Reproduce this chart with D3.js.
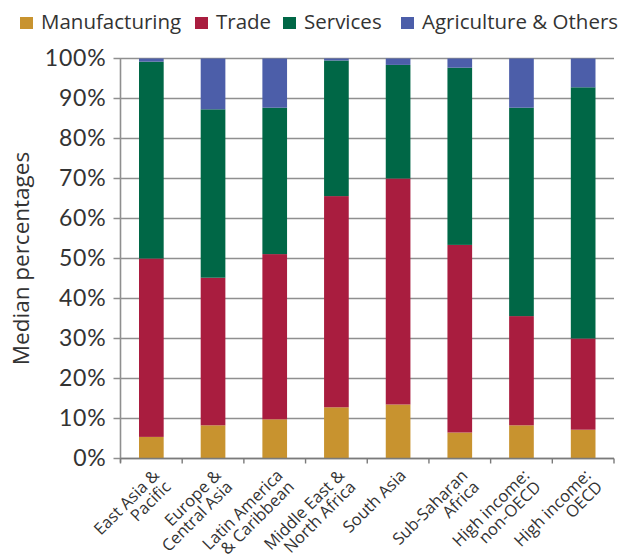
<!DOCTYPE html>
<html>
<head>
<meta charset="utf-8">
<script src="https://cdn.jsdelivr.net/npm/d3@7"></script>
<style>
  body { margin: 0; background: #fff; }
  svg { display: block; font-family: "Open Sans", "Noto Sans", sans-serif; }
</style>
</head>
<body>
<svg id="chart" width="620" height="559"></svg>
<script>
// regions, one entry per bar (line breaks as in the picture)
let regions = [
  ["East Asia &", "Pacific"],
  ["Europe &", "Central Asia"],
  ["Latin America", "& Caribbean"],
  ["Middle East &", "North Africa"],
  ["South Asia"],
  ["Sub-Saharan", "Africa"],
  ["High income:", "non-OECD"],
  ["High income:", "OECD"]
];
let sectors = ["Manufacturing", "Trade", "Services", "Agriculture & Others"];
let sectorColors = ["#c8932f", "#a91d3f", "#006746", "#4c5ea9"];

// median percentages
let manufacturing = [5.4, 8.3, 9.8, 12.8, 13.5, 6.5, 8.3, 7.2];
let trade         = [44.6, 36.9, 41.3, 52.8, 56.5, 46.9, 27.3, 22.8];
let services      = [49.2, 42.1, 36.6, 33.9, 28.4, 44.3, 52.1, 62.8];
let agriculture   = [0.8, 12.7, 12.3, 0.5, 1.6, 2.3, 12.3, 7.2];

let yTicks = [0, 10, 20, 30, 40, 50, 60, 70, 80, 90, 100];

let margin = {top: 58.5, right: 6, bottom: 100.5, left: 120.5};
let width = 620, height = 559;

let rows = regions.map((r, i) => ({
  key: r.join(" "),
  "Manufacturing": manufacturing[i],
  "Trade": trade[i],
  "Services": services[i],
  "Agriculture & Others": agriculture[i]
}));

let series = d3.stack().keys(sectors)(rows);

let x = d3.scaleBand()
  .domain(rows.map(d => d.key))
  .range([margin.left, width - margin.right])
  .paddingInner(0.6)
  .paddingOuter(0.3);

let y = d3.scaleLinear()
  .domain([0, 100])
  .range([height - margin.bottom, margin.top]);

let color = d3.scaleOrdinal(sectors, sectorColors);

let svg = d3.select("#chart");

// grid lines + ticks on the left
svg.append("g")
  .selectAll("line")
  .data(yTicks)
  .join("line")
    .attr("x1", margin.left - 7)
    .attr("x2", width - margin.right)
    .attr("y1", d => y(d))
    .attr("y2", d => y(d))
    .attr("stroke", "#8f8f8f")
    .attr("stroke-width", 1.6);

// bars
svg.append("g")
  .selectAll("g")
  .data(series)
  .join("g")
    .attr("fill", d => color(d.key))
  .selectAll("rect")
  .data(d => d)
  .join("rect")
    .attr("x", d => x(d.data.key))
    .attr("width", x.bandwidth())
    .attr("y", d => y(d[1]))
    .attr("height", d => y(d[0]) - y(d[1]));

// y axis line
svg.append("line")
  .attr("x1", margin.left).attr("x2", margin.left)
  .attr("y1", y(100)).attr("y2", y(0) + 4)
  .attr("stroke", "#8f8f8f")
  .attr("stroke-width", 1.6);

// x axis line and category ticks
let step = x.step();
let xAxis = svg.append("g");
xAxis.append("line")
  .attr("x1", margin.left).attr("x2", width - margin.right)
  .attr("y1", y(0)).attr("y2", y(0))
  .attr("stroke", "#7a7a7a")
  .attr("stroke-width", 1.6);
xAxis.selectAll("line.tick")
  .data(d3.range(regions.length + 1))
  .join("line")
    .attr("class", "tick")
    .attr("x1", i => margin.left + i * step)
    .attr("x2", i => margin.left + i * step)
    .attr("y1", y(0))
    .attr("y2", y(0) + 5)
    .attr("stroke", "#7a7a7a")
    .attr("stroke-width", 1.4);

// y tick labels
svg.append("g")
  .attr("font-family", "Lato, 'Open Sans', sans-serif")
  .attr("font-size", 23)
  .attr("fill", "#333")
  .attr("text-anchor", "end")
  .style("letter-spacing", "0.8px")
  .selectAll("text")
  .data(yTicks)
  .join("text")
    .attr("x", margin.left - 14)
    .attr("y", d => y(d))
    .attr("dy", "0.33em")
    .text(d => d + "%");

// y axis title
svg.append("text")
  .attr("transform", `translate(29,${(y(0) + y(100)) / 2}) rotate(-90)`)
  .attr("text-anchor", "middle")
  .attr("font-size", 22.5)
  .attr("fill", "#333")
  .text("Median percentages");

// rotated category labels
svg.append("g")
  .attr("font-size", 16.5)
  .attr("fill", "#333")
  .attr("text-anchor", "end")
  .selectAll("text")
  .data(regions)
  .join("text")
    .attr("transform", (d, i) => `translate(${x(rows[i].key) + x.bandwidth() / 2 + 9},${y(0) + 18}) rotate(-45)`)
  .selectAll("tspan")
  .data(d => d)
  .join("tspan")
    .attr("x", 0)
    .attr("dy", (d, i) => i === 0 ? 0 : "0.98em")
    .text(d => d);

// legend
let legendX = [20, 195, 283, 401];
let legend = svg.append("g")
  .selectAll("g")
  .data(sectors)
  .join("g")
    .attr("transform", (d, i) => `translate(${legendX[i]},17)`);
legend.append("rect")
  .attr("width", 13)
  .attr("height", 12)
  .attr("fill", d => color(d));
legend.append("text")
  .attr("x", 21)
  .attr("y", 12)
  .attr("font-size", 20.5)
  .attr("fill", "#333")
  .text(d => d);
</script>
</body>
</html>
